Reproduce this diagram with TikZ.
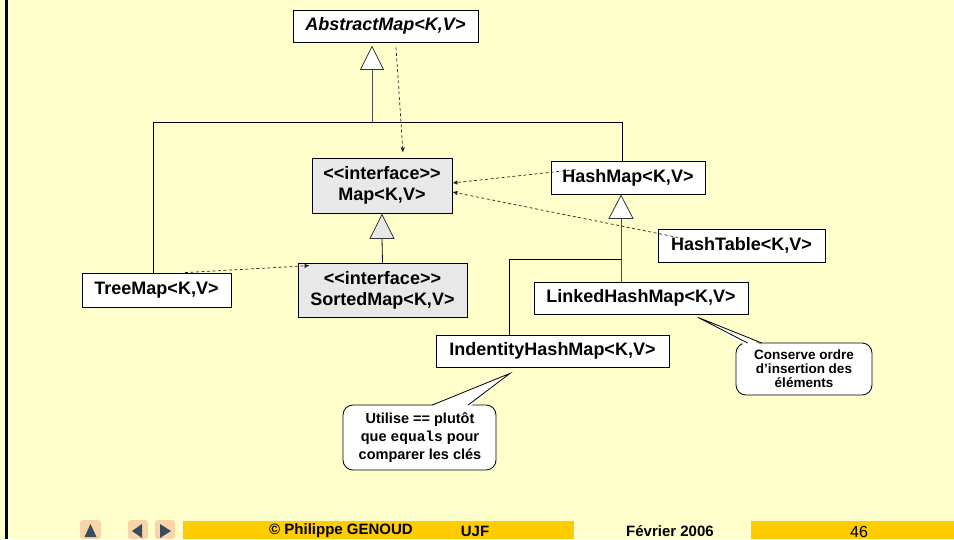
\documentclass[tikz,border=0pt]{standalone}
\usepackage{fontspec}
\setmainfont{Liberation Sans}[Ligatures=TeXOff]
\newfontfamily\codefont{Liberation Mono}
\usetikzlibrary{arrows.meta,calc}
\definecolor{pagebg}{RGB}{255,255,204}
\definecolor{barfill}{RGB}{255,204,0}
\definecolor{ifacefill}{RGB}{232,232,232}
\definecolor{navblue}{RGB}{58,74,96}
\definecolor{navglow}{RGB}{244,196,150}
\begin{document}
\begin{tikzpicture}[x=1pt,y=-1pt,
  cls/.style={draw=black,line width=0.8pt,fill=white,inner sep=0pt,align=center,
    font=\fontsize{18}{21}\selectfont\bfseries},
  iface/.style={cls,fill=ifacefill},
  link/.style={draw=black,line width=0.8pt},
  stem/.style={draw=black!70,line width=0.9pt},
  inh/.style={draw=black!80,line width=0.8pt,fill=white,line join=miter},
  dep/.style={draw=black!85,line width=0.7pt,dash pattern=on 3pt off 2.5pt,
    -{Latex[length=5pt,width=4.5pt]}},
  note/.style={draw=black,line width=0.8pt,fill=white,rounded corners=10pt},
  notetail/.style={draw=black,line width=0.8pt,line join=miter},
  notetext/.style={align=center,inner sep=0pt},
  bar/.style={fill=barfill},
  foot/.style={inner sep=0pt,font=\fontsize{15}{18}\selectfont\bfseries},
  navglowbox/.style={fill=navglow,opacity=0.7,rounded corners=3pt},
  navtip/.style={fill=navblue}
]
% page
\useasboundingbox (0,0) rectangle (954,539);
\fill[pagebg] (0,0) rectangle (954,539);
\fill[black] (5,0) rectangle (7.5,539);

% classes and interfaces
\node[cls,minimum width=185pt,minimum height=32pt] (abs) at (385.5,26) {\itshape AbstractMap<K,V>};
\node[iface,minimum width=140pt,minimum height=55pt] (map) at (382,185.5) {<<interface>>\\Map<K,V>};
\node[cls,minimum width=154pt,minimum height=33pt] (hm) at (628,177.5) {HashMap<K,V>};
\node[cls,minimum width=167pt,minimum height=33pt] (ht) at (741.5,245.5) {HashTable<K,V>};
\node[cls,minimum width=149pt,minimum height=34pt] (tm) at (156.5,290) {TreeMap<K,V>};
\node[iface,minimum width=169pt,minimum height=54pt] (sm) at (382.5,290) {<<interface>>\\SortedMap<K,V>};
\node[cls,minimum width=214pt,minimum height=32pt] (lhm) at (641,298) {LinkedHashMap<K,V>};
\node[cls,minimum width=233pt,minimum height=32pt] (ihm) at (552.5,351) {IndentityHashMap<K,V>};

% junction points of the inheritance tree
\coordinate (t1) at ($(abs.south)+(-13.5,4)$);
\coordinate (t1b) at ($(t1)+(0,23)$);
\coordinate (j1) at ($(abs.south)+(-13.5,81)$);
\coordinate (t2) at ($(map.south)+(0,1)$);
\coordinate (t2b) at ($(t2)+(0,24)$);
\coordinate (t3) at ($(hm.south)+(-7,1)$);
\coordinate (t3b) at ($(t3)+(0,23)$);
\coordinate (j3) at ($(t3)+(0,64)$);

% AbstractMap subclasses
\draw[link] ($(tm.north)+(-3.5,0)$) |- ($(hm.north)+(-6,-38)$) -- ($(hm.north)+(-6,0)$);
\draw[stem] (t1b) -- (j1);
\draw[inh] (t1) -- ++(11.5,23) -- ++(-23,0) -- cycle;

% SortedMap extends Map
\draw[link] (t2b) -- (sm.north);
\draw[inh,fill=ifacefill] (t2) -- ++(12,24) -- ++(-24,0) -- cycle;

% HashMap subclasses
\draw[stem] (t3b) -- ($(lhm.north)+(-20,0)$);
\draw[link] (j3) -| ($(ihm.north)+(-43.5,0)$);
\draw[inh] (t3) -- ++(12,23) -- ++(-24,0) -- cycle;

% implemented interfaces
\draw[dep] ($(abs.south)+(10.5,5)$) -- ($(map.north)+(21,-5)$);
\draw[dep] ($(hm.north west)+(25,9)$) -- ($(map.east)+(0,-2.5)$);
\draw[dep] ($(ht.north west)+(26,10)$) -- ($(map.east)+(0,6.5)$);
\draw[dep] (tm.north) ++(28.5,0) -- ($(sm.north west)+(12,3)$);

% note on LinkedHashMap
\coordinate (n1tip) at ($(lhm.south)+(57,3)$);
\draw[note] (736,343) rectangle (872,395);
\fill[white] (746,345.5) -- (n1tip) -- (763,345.5) -- cycle;
\draw[notetail] (747.6,343) -- (n1tip) -- (761.8,343);
\node[notetext,font=\fontsize{13.5}{14}\selectfont\bfseries] (n1) at (804,369)
  {Conserve ordre\\d’insertion des\\éléments};

% note on IdentityHashMap
\coordinate (n2tip) at ($(ihm.south)+(-42.5,6)$);
\draw[note] (343,405) rectangle (496,470);
\fill[white] (428,407.5) -- (n2tip) -- (469,407.5) -- cycle;
\draw[notetail] (432.3,405) -- (n2tip) -- (468.2,405);
\node[notetext,font=\fontsize{14.5}{18}\selectfont\bfseries] (n2) at (420,438)
  {Utilise == plutôt\\que {\codefont equals} pour\\comparer les clés};

% footer
\fill[navglowbox] (80,520) rectangle (101,539);
\fill[navtip] (90.5,524) -- (96.5,537) -- (84.5,537) -- cycle;
\fill[navglowbox] (128,520) rectangle (148,539);
\fill[navtip] (132,531) -- (142,524) -- (142,538) -- cycle;
\fill[navglowbox] (155,520) rectangle (175,539);
\fill[navtip] (171,531) -- (160,524) -- (160,538) -- cycle;
\fill[bar] (183,521) rectangle (574,539);
\fill[bar] (751,521) rectangle (954,539);
\node[foot] (author) at (341,531) {© Philippe GENOUD};
\node[foot] (univ) at (475,531) {UJF};
\node[foot] (date) at (670,531) {Février 2006};
\node[inner sep=0pt,font=\fontsize{16}{18}\selectfont] (page) at (859,531.5) {46};
\end{tikzpicture}
\end{document}
